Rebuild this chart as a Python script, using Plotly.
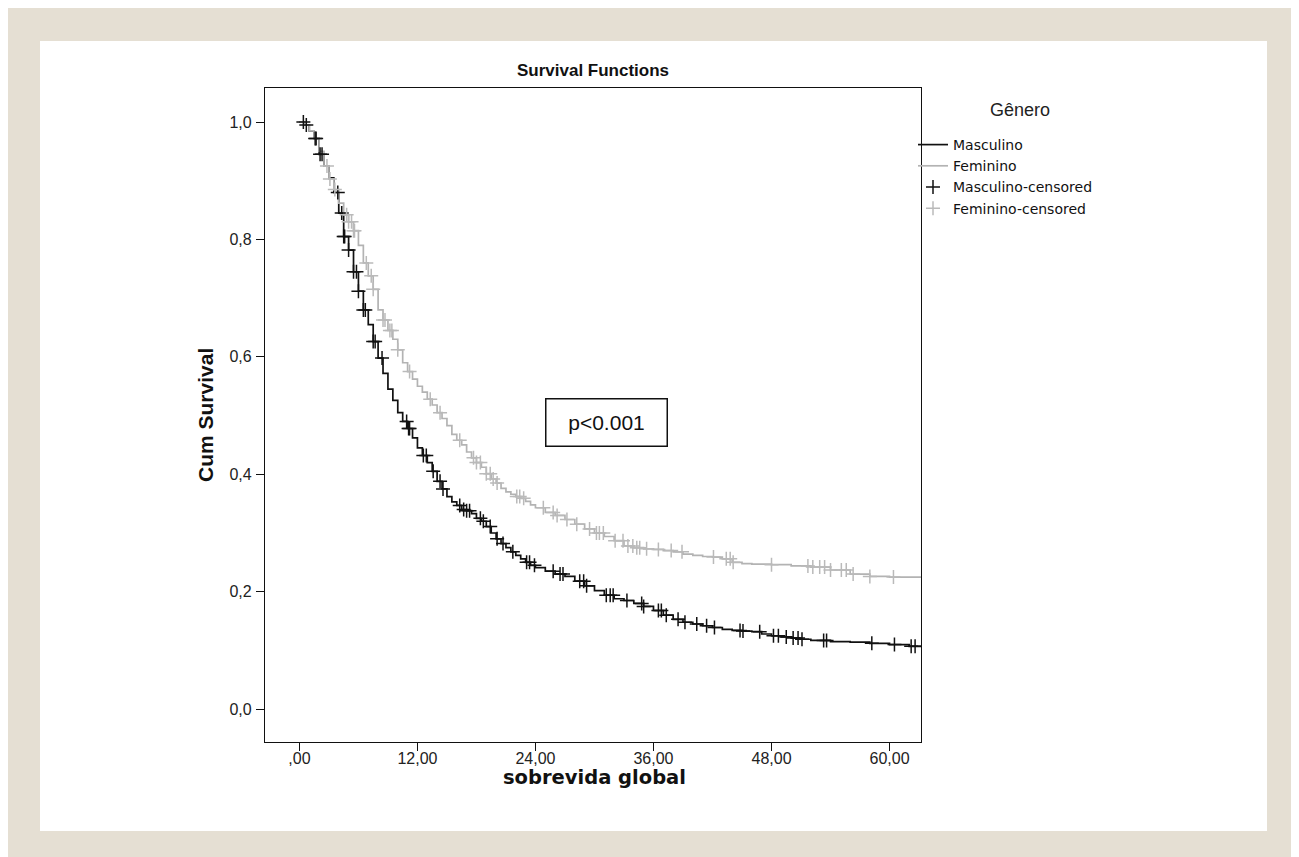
import numpy as np
import plotly.graph_objects as go

# ---- data ----
masc_t = [0.0, 0.5, 1.0, 1.5, 2.0, 2.5, 3.0, 3.5, 4.0, 4.5, 5.0, 5.5, 6.0, 6.5, 7.0, 7.5, 8.0, 8.5,
          9.0, 9.5, 10.0, 10.5, 11.0, 11.5, 12.0, 12.5, 13.0, 13.5, 14.0, 14.5, 15.0, 15.5, 16.0,
          16.5, 17.0, 17.5, 18.0, 18.5, 19.0, 19.5, 20.0, 20.5, 21.0, 21.5, 22.0, 22.5, 23.0, 23.5,
          24.0, 25.0, 26.0, 27.0, 28.0, 29.0, 30.0, 31.0, 32.0, 33.0, 34.0, 35.0, 36.0, 37.0, 38.0,
          39.0, 40.0, 41.0, 42.0, 43.0, 44.0, 45.0, 46.0, 47.0, 48.0, 49.0, 50.0, 51.0, 52.0, 54.0,
          56.0, 58.0, 60.0, 62.0, 63.2]
masc_s = [1.000, 0.995, 0.985, 0.972, 0.945, 0.925, 0.905, 0.880, 0.845, 0.805, 0.782, 0.745, 0.712,
          0.680, 0.655, 0.626, 0.598, 0.572, 0.545, 0.526, 0.505, 0.490, 0.478, 0.462, 0.445, 0.432,
          0.420, 0.405, 0.388, 0.375, 0.362, 0.353, 0.347, 0.340, 0.338, 0.333, 0.325, 0.320, 0.311,
          0.300, 0.290, 0.282, 0.275, 0.268, 0.262, 0.256, 0.250, 0.245, 0.241, 0.235, 0.230, 0.226,
          0.218, 0.210, 0.202, 0.194, 0.188, 0.185, 0.180, 0.175, 0.168, 0.160, 0.153, 0.148, 0.145,
          0.142, 0.139, 0.136, 0.134, 0.133, 0.132, 0.128, 0.125, 0.123, 0.121, 0.119, 0.117, 0.115,
          0.114, 0.112, 0.110, 0.107, 0.107]

fem_t = [0.0, 0.5, 1.0, 1.5, 2.0, 2.5, 3.0, 3.5, 4.0, 4.5, 5.0, 5.5, 6.0, 6.5, 7.0, 7.5, 8.0, 8.5,
         9.0, 9.5, 10.0, 10.5, 11.0, 11.5, 12.0, 12.5, 13.0, 13.5, 14.0, 14.5, 15.0, 15.5, 16.0,
         16.5, 17.0, 17.5, 18.0, 18.5, 19.0, 19.5, 20.0, 20.5, 21.0, 21.5, 22.0, 22.5, 23.0, 23.5,
         24.0, 25.0, 26.0, 27.0, 28.0, 29.0, 30.0, 31.0, 32.0, 33.0, 34.0, 35.0, 36.0, 37.0, 38.0,
         39.0, 40.0, 41.0, 42.0, 43.0, 44.0, 45.0, 46.0, 48.0, 50.0, 52.0, 54.0, 56.0, 58.0, 60.0,
         63.2]
fem_s = [1.000, 0.995, 0.985, 0.972, 0.950, 0.925, 0.903, 0.885, 0.862, 0.842, 0.830, 0.815, 0.790,
         0.760, 0.738, 0.715, 0.680, 0.663, 0.645, 0.630, 0.612, 0.590, 0.575, 0.562, 0.550, 0.540,
         0.528, 0.518, 0.505, 0.495, 0.483, 0.468, 0.458, 0.450, 0.438, 0.428, 0.420, 0.412, 0.401,
         0.392, 0.385, 0.376, 0.370, 0.366, 0.362, 0.359, 0.354, 0.348, 0.343, 0.335, 0.330, 0.323,
         0.315, 0.307, 0.300, 0.294, 0.287, 0.278, 0.275, 0.273, 0.272, 0.270, 0.268, 0.264, 0.262,
         0.260, 0.259, 0.256, 0.250, 0.248, 0.247, 0.246, 0.244, 0.242, 0.237, 0.230, 0.226, 0.225,
         0.225]

masc_cens = [0.4, 0.7, 1.6, 1.7, 2.1, 2.3, 3.9, 4.3, 4.5, 4.6, 5.0, 5.5, 5.8, 6.0, 6.5, 6.7, 7.5, 7.7,
             8.4, 10.9, 11.1, 11.2, 12.6, 12.9, 13.6, 14.3, 14.6, 16.3, 16.7, 17.0, 17.3, 18.4, 18.7,
             19.4, 20.1, 20.7, 21.7, 23.1, 23.4, 23.9, 25.8, 26.5, 26.8, 28.5, 28.9, 29.2, 31.2, 31.6,
             31.9, 33.3, 34.8, 35.0, 36.5, 36.8, 37.3, 38.5, 39.2, 40.4, 41.4, 42.2, 44.8, 45.1, 46.8,
             48.2, 48.7, 49.5, 50.2, 50.7, 51.1, 53.3, 53.6, 58.2, 60.5, 62.2, 62.6]
fem_cens = [2.8, 3.1, 3.6, 4.8, 5.0, 5.3, 5.5, 5.6, 6.8, 7.3, 7.5, 8.5, 8.7, 9.2, 9.4, 10.0, 11.2,
            13.3, 14.3, 16.3, 17.7, 18.0, 18.4, 19.0, 19.4, 19.7, 20.1, 22.1, 22.4, 22.8, 24.8, 25.8,
            26.2, 27.2, 28.2, 29.5, 30.2, 30.5, 30.9, 32.1, 32.9, 33.4, 33.9, 34.3, 34.6, 35.3, 36.5,
            37.8, 38.9, 42.1, 43.4, 43.8, 44.1, 48.0, 51.7, 52.2, 52.9, 53.4, 54.0, 55.1, 55.6, 56.3,
            58.0, 60.4]

y_ticks = [0.0, 0.2, 0.4, 0.6, 0.8, 1.0]
y_labels = ["0,0", "0,2", "0,4", "0,6", "0,8", "1,0"]
x_ticks = [0, 12, 24, 36, 48, 60]
x_labels = [",00", "12,00", "24,00", "36,00", "48,00", "60,00"]


def step_value(times, surv, pts):
    t = np.asarray(times)
    s = np.asarray(surv)
    idx = np.searchsorted(t, np.asarray(pts), side="right") - 1
    return s[np.clip(idx, 0, len(s) - 1)]


BLACK = "#111111"
GRAY = "#b3b3b3"
GRAY_M = "#bababa"
ARIAL = "Liberation Sans, Arial"

fig = go.Figure()
fig.add_trace(go.Scatter(x=masc_t, y=masc_s, mode="lines", line_shape="hv",
                         line=dict(color=BLACK, width=1.7), name="Masculino"))
fig.add_trace(go.Scatter(x=fem_t, y=fem_s, mode="lines", line_shape="hv",
                         line=dict(color=GRAY, width=1.7), name="Feminino"))
fig.add_trace(go.Scatter(x=masc_cens, y=step_value(masc_t, masc_s, masc_cens), mode="markers",
                         marker=dict(symbol="cross-thin-open", size=10, color=BLACK,
                                     line=dict(color=BLACK, width=1.5)),
                         name="Masculino-censored"))
fig.add_trace(go.Scatter(x=fem_cens, y=step_value(fem_t, fem_s, fem_cens), mode="markers",
                         marker=dict(symbol="cross-thin-open", size=10, color=GRAY_M,
                                     line=dict(color=GRAY_M, width=1.5)),
                         name="Feminino-censored"))

# figure-pixel -> paper helpers (plot area in figure pixels: x 257..913, y 80..734)
L, R, T, B = 257, 913, 80, 734
W, H = 1299, 857
def px(x):
    return (x - L) / (R - L)
def py(y):
    return (B - y) / (B - T)

shapes = [
    dict(type="rect", xref="paper", yref="paper", x0=px(32), x1=px(1259), y0=py(33), y1=py(823),
         fillcolor="#ffffff", line=dict(width=0), layer="below"),
]

annotations = [
    dict(text="p<0.001", x=px(598), y=py(414), xref="paper", yref="paper", showarrow=False,
         xanchor="center", yanchor="middle",
         font=dict(family=ARIAL, size=21, color="#111"),
         bordercolor="#111", borderwidth=1.5, borderpad=2, width=116, height=42,
         bgcolor="white"),
    dict(text="<b>sobrevida global</b>", x=px(586), y=py(769), xref="paper", yref="paper",
         showarrow=False, xanchor="center", yanchor="middle",
         font=dict(family="DejaVu Sans", size=19.5, color="#111")),
    dict(text="<b>Cum Survival</b>", x=px(197), y=py(407), xref="paper", yref="paper",
         showarrow=False, textangle=-90, xanchor="center", yanchor="middle",
         font=dict(family=ARIAL, size=21, color="#111")),
    dict(text="Gênero", x=px(1012), y=py(102), xref="paper", yref="paper",
         showarrow=False, xanchor="center", yanchor="middle",
         font=dict(family=ARIAL, size=18, color="#222")),
]

fig.update_layout(
    width=W, height=H,
    margin=dict(l=L, r=W - R, t=T, b=H - B, pad=0),
    paper_bgcolor="#e5dfd3", plot_bgcolor="white",
    font=dict(family=ARIAL, size=16, color="#222"),
    title=dict(text="<b>Survival Functions</b>", x=px(585), xref="paper", xanchor="center",
               y=1 - 62 / H, yref="container", yanchor="middle",
               font=dict(family=ARIAL, size=17, color="#111")),
    showlegend=True,
    legend=dict(x=px(905), xanchor="left", y=py(121), yanchor="top", bgcolor="rgba(0,0,0,0)",
                font=dict(family="DejaVu Sans", size=14, color="#111"),
                itemwidth=30, tracegroupgap=0),
    shapes=shapes,
    annotations=annotations,
)

fig.update_xaxes(range=[-3.5, 63.2], tickvals=x_ticks, ticktext=x_labels,
                 showgrid=False, zeroline=False, showline=True, linecolor="#111", linewidth=1.2,
                 mirror=True, ticks="outside", ticklen=8, tickwidth=1.2, tickcolor="#111",
                 ticklabelstandoff=-6,
                 tickfont=dict(family=ARIAL, size=16, color="#222"))
fig.update_yaxes(range=[-0.056, 1.058], tickvals=y_ticks, ticktext=y_labels,
                 showgrid=False, zeroline=False, showline=True, linecolor="#111", linewidth=1.2,
                 mirror=True, ticks="outside", ticklen=8, tickwidth=1.2, tickcolor="#111",
                 ticklabelstandoff=1,
                 tickfont=dict(family=ARIAL, size=16, color="#222"))

fig.write_html("out.html")
